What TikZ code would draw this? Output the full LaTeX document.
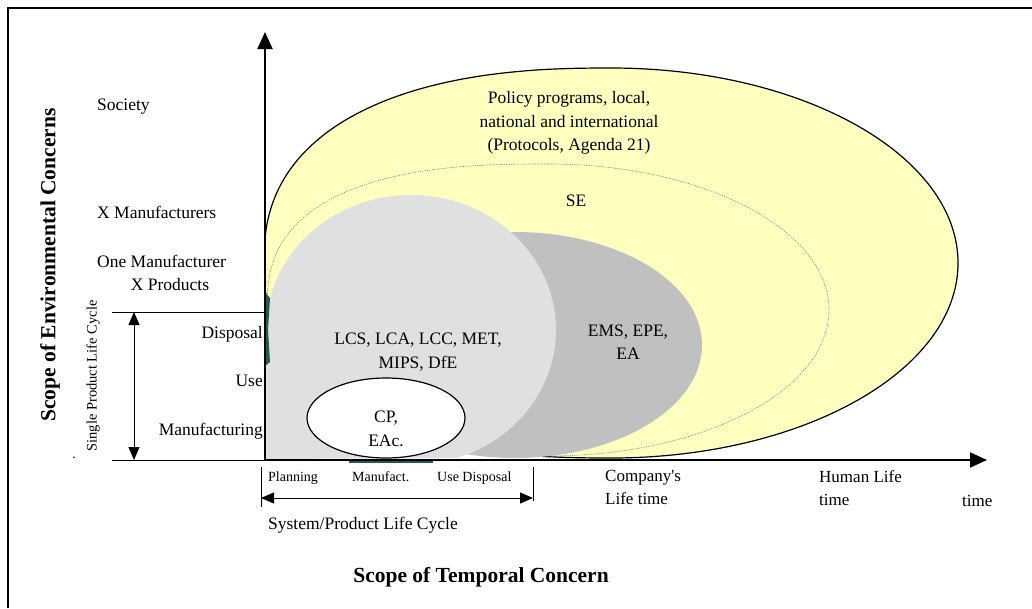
\documentclass[tikz,border=0pt]{standalone}
\usepackage{fontspec}
\setmainfont{Liberation Serif}
\newfontfamily\plainserif{Liberation Serif}
\usetikzlibrary{arrows.meta}
\definecolor{policyyellow}{HTML}{FFFFC0}
\definecolor{emsgray}{HTML}{C0C0C0}
\definecolor{lcsgray}{HTML}{E0E0E0}
\definecolor{tealmark}{HTML}{1E5A52}
\begin{document}
\begin{tikzpicture}[x=1pt,y=-1pt,
  lbl/.style={inner sep=0pt, font=\fontsize{17.5}{23}\selectfont, text height=12pt, text depth=3.5pt},
  lblc/.style={inner sep=0pt, font=\fontsize{17.5}{23.5}\selectfont, align=center},
  small/.style={inner sep=0pt, font=\fontsize{14}{23}\selectfont, text height=10pt, text depth=3pt},
  title/.style={inner sep=0pt, font=\fontsize{21.5}{26}\selectfont\bfseries},
  axis/.style={line width=2pt, -{Triangle[length=17pt,width=15pt]}},
  span/.style={line width=1pt, {Triangle[length=13pt,width=11pt]}-{Triangle[length=13pt,width=11pt]}},
  thin/.style={line width=1pt},
  dotline/.style={gray, line width=0.6pt, dash pattern=on 1.2pt off 1.2pt},
]
\useasboundingbox (0,0) rectangle (1032,608);

% outer frame (top and left edges)
\draw[line width=2pt] (8,608) -- (8,7.5) -- (1032,7.5);

% policy scope: fuller on the left, elliptic on the right
\begin{scope}
  \clip (265,0) rectangle (1032,460);
  \draw[fill=policyyellow, line width=1.2pt]
    plot[domain=90:270, samples=120, variable=\t]
      ({611 + 347*sign(cos(\t))*pow(abs(cos(\t))+0.000001, 2/2.4)},
       {263 - 195*sign(sin(\t))*pow(abs(sin(\t))+0.000001, 2/2.4)})
    arc[start angle=270, end angle=450, x radius=347pt, y radius=195pt] -- cycle;
\end{scope}

% SE boundary (dotted)
\draw[dotline] plot[domain=90:205, samples=80, variable=\t]
  ({548 + 281*sign(cos(\t))*pow(abs(cos(\t))+0.000001, 2/2.6)},
   {310 - 146*sign(sin(\t))*pow(abs(sin(\t))+0.000001, 2/2.6)});
\draw[dotline] (548,164) arc[start angle=90, end angle=-90, x radius=281pt, y radius=146pt];

% EMS and LCS scopes, CP core
\fill[emsgray] (515,345) ellipse [x radius=187pt, y radius=113pt];
\fill[lcsgray] (266,459) -- (266,330)
  arc[start angle=180, end angle=-71.5, x radius=145pt, y radius=135pt] -- cycle;
\draw[fill=white, line width=1.2pt] (386,418) ellipse [x radius=79pt, y radius=40pt];

% small teal slivers along the axes
\fill[tealmark] (265,292) -- (270,298) -- (268,330) -- (270,362) -- (265,366) -- cycle;
\draw[tealmark, line width=2pt] (349,462) -- (433,462);

% axes
\coordinate (origin) at (265,460);
\coordinate (ytip) at (265,32);
\coordinate (xtip) at (987,460);
\draw[axis] (origin) -- (ytip);
\draw[axis] (origin) -- (xtip);

% single product life cycle span
\coordinate (sl) at (112,312);
\coordinate (sr) at (265,312);
\coordinate (bl) at (112,460);
\coordinate (br) at (265,460);
\draw[thin] (sl) -- (sr);
\draw[thin] (bl) -- (br);
\coordinate (st) at (134,312);
\coordinate (sb) at (134,460);
\draw[span] (st) -- (sb);

% system/product life cycle span
\coordinate (t1a) at (261,467);
\coordinate (t1b) at (261,507);
\coordinate (t2a) at (533,467);
\coordinate (t2b) at (533,501);
\draw[thin] (t1a) -- (t1b);
\draw[thin] (t2a) -- (t2b);
\coordinate (pl) at (261,498);
\coordinate (pr) at (533,498);
\draw[span] (pl) -- (pr);

% axis titles
\node[title, rotate=90] (ytitle) at (50,265) {Scope of Environmental Concerns};
\node[title] (xtitle) at (481,577) {Scope of Temporal Concern};
\node[small, rotate=90, font=\fontsize{14.5}{17}\selectfont] (splc) at (93,376) {Single Product Life Cycle};
\node[small] (dot) at (74,455) {.};

% vertical scale labels
\node[lbl, anchor=west] (society) at (97,106) {Society};
\node[lbl, anchor=west] (xman) at (97,214) {X Manufacturers};
\node[lbl, anchor=west] (oneman) at (97,263) {One Manufacturer};
\node[lbl] (xprod) at (170,286) {X Products};
\node[lbl, anchor=east] (disp) at (263,334) {Disposal};
\node[lbl, anchor=east] (use) at (263,382) {Use};
\node[lbl, anchor=east] (manu) at (263,431) {Manufacturing};

% horizontal scale labels
\node[small, anchor=west] (plan) at (268,478) {Planning};
\node[small, anchor=west] (mfct) at (352,478) {Manufact.};
\node[small, anchor=west] (usedisp) at (437,478) {Use Disposal};
\node[lbl, anchor=west] (splc2) at (268,525) {System/Product Life Cycle};
\node[lbl, anchor=north west, align=left, text height=, text depth=, font=\plainserif\fontsize{17}{23.5}\selectfont] (company) at (605,470) {Company's\\Life time};
\node[lbl, anchor=north west, align=left, text height=, text depth=, font=\fontsize{17}{23.5}\selectfont] (human) at (819,470) {Human Life\\time};
\node[lbl, anchor=west, font=\fontsize{17}{23}\selectfont] (time) at (962,502) {time};

% scope labels
\node[lblc] (policy) at (569,123) {Policy programs, local,\\national and international\\(Protocols, Agenda 21)};
\node[lbl] (se) at (576,202) {SE};
\node[lblc] (ems) at (628,342) {EMS, EPE,\\EA};
\node[lblc] (lcs) at (418,352) {LCS, LCA, LCC, MET,\\MIPS, DfE};
\node[lblc] (cp) at (386,429) {CP,\\EAc.};
\end{tikzpicture}
\end{document}
